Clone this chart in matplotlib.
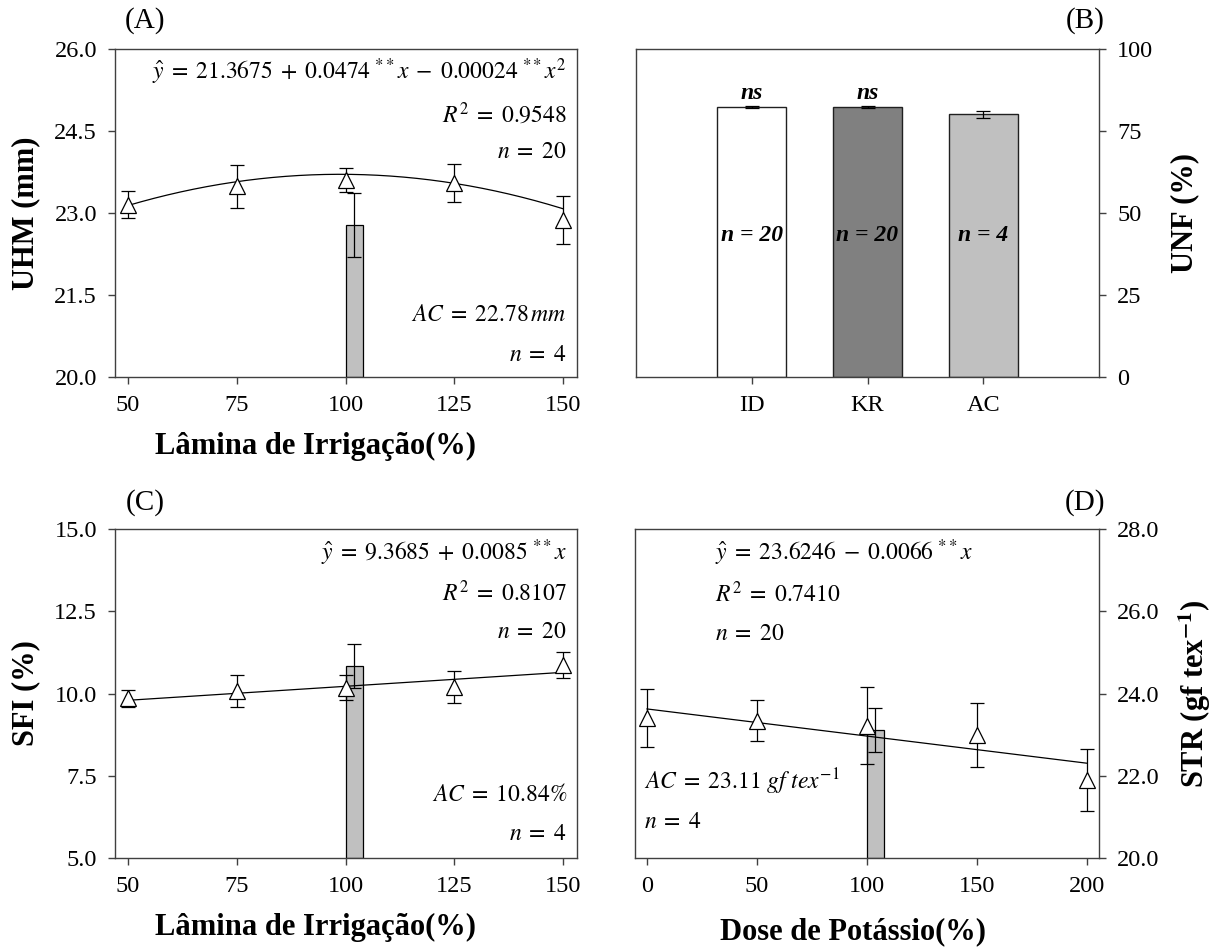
import numpy as np
import matplotlib
matplotlib.use("Agg")
import matplotlib.pyplot as plt
from matplotlib.ticker import FormatStrFormatter

plt.rcParams['font.family'] = ['Liberation Serif', 'DejaVu Serif']
plt.rcParams['mathtext.fontset'] = 'stix'

# ---- data ----
# (A) UHM vs irrigation
lam_x = [50, 75, 100, 125, 150]
uhm_y = [23.15, 23.49, 23.61, 23.55, 22.88]
uhm_err = [0.25, 0.39, 0.22, 0.35, 0.44]
uhm_coef = [-0.00024, 0.0474, 21.3675]
uhm_ac = 22.78
uhm_ac_err = 0.59

# (B) UNF bars
unf_cat = ['ID', 'KR', 'AC']
unf_val = [82.4, 82.4, 80.1]
unf_err = [0.3, 0.3, 1.0]
unf_n = ['n = 20', 'n = 20', 'n = 4']
unf_sig = ['ns', 'ns', '']
unf_col = ['#ffffff', '#808080', '#c0c0c0']

# (C) SFI vs irrigation
sfi_y = [9.85, 10.08, 10.18, 10.20, 10.86]
sfi_err = [0.25, 0.49, 0.37, 0.49, 0.39]
sfi_coef = [0.0085, 9.3685]
sfi_ac = 10.84
sfi_ac_err = 0.66

# (D) STR vs potassium
dose_x = [0, 50, 100, 150, 200]
str_y = [23.40, 23.34, 23.22, 22.99, 21.90]
str_err = [0.70, 0.49, 0.94, 0.78, 0.75]
str_coef = [-0.0066, 23.6246]
str_ac = 23.11
str_ac_err = 0.53

W, H = 1214, 949
fig = plt.figure(figsize=(W / 100, H / 100), dpi=100)

def box(l, r, t, b):
    return [l / W, 1 - b / H, (r - l) / W, (b - t) / H]

axA = fig.add_axes(box(115, 577, 49, 377))
axB = fig.add_axes(box(636, 1099, 49, 377))
axC = fig.add_axes(box(115, 577, 529, 858))
axD = fig.add_axes(box(635, 1099, 529, 858))

spc = '#404040'
tick_fs = 17.5
lab_fs = 22
eq_fs = 17
let_fs = 21

for ax in [axA, axB, axC, axD]:
    for s in ax.spines.values():
        s.set_color(spc)
        s.set_linewidth(1.0)
    ax.tick_params(direction='out', length=5, width=1, color=spc,
                   labelsize=tick_fs, pad=8)

tri = dict(fmt='^', ms=12, mfc='white', mec='black', mew=0.9,
           ecolor='black', elinewidth=0.9, capsize=5, capthick=0.9, zorder=5)

def eq(ax, x, y, s, ha='right'):
    ax.text(x, y, s, transform=ax.transAxes, ha=ha, va='center', fontsize=eq_fs)

def xlab(ax, s, xf, yf):
    ax.set_xlabel(s, fontsize=lab_fs, fontweight='bold', va='center')
    ax.xaxis.set_label_coords(xf, yf)

# ---- A ----
xx = np.linspace(50, 150, 200)
axA.plot(xx, np.polyval(uhm_coef, xx), color='black', lw=0.9, zorder=3)
axA.bar(100, uhm_ac - 20, bottom=20, width=3.9, align='edge', color='#c0c0c0',
        edgecolor='black', lw=0.9, zorder=2)
axA.errorbar(101.95, uhm_ac, yerr=uhm_ac_err, fmt='none', ecolor='black',
             elinewidth=0.9, capsize=5, capthick=0.9, zorder=4)
axA.errorbar(lam_x, uhm_y, yerr=uhm_err, **tri)
axA.set_xlim(47, 153.2)
axA.set_ylim(20, 26)
axA.set_xticks(lam_x)
axA.set_yticks([20, 21.5, 23, 24.5, 26])
axA.yaxis.set_major_formatter(FormatStrFormatter('%.1f'))
xlab(axA, 'Lâmina de Irrigação(%)', 0.433, -0.213)
axA.set_ylabel('UHM (mm)', fontsize=lab_fs, fontweight='bold', labelpad=10)
eq(axA, 0.978, 0.93, r'$\hat{y}\;=\;21.3675\;+\;0.0474\;{}^{**}x\;-\;0.00024\;{}^{**}x^2$')
eq(axA, 0.978, 0.80, r'$R^2\;=\;0.9548$')
eq(axA, 0.978, 0.683, r'$n\;=\;20$')
eq(axA, 0.978, 0.189, r'$AC\;=\;22.78\,mm$')
eq(axA, 0.978, 0.067, r'$n\;=\;4$')
fig.text(145 / W, 1 - 21 / H, '(A)', ha='center', va='center', fontsize=let_fs)

# ---- B ----
pos = np.arange(len(unf_cat))
axB.bar(pos, unf_val, width=0.6, color=unf_col, edgecolor='#202020', lw=1.0, zorder=2)
axB.errorbar(pos, unf_val, yerr=unf_err, fmt='none', ecolor='black',
             elinewidth=0.9, capsize=5, capthick=0.9, zorder=3)
for i in range(len(unf_cat)):
    axB.text(pos[i], 43.2, unf_n[i], ha='center', va='center', fontsize=17,
             fontweight='bold', fontstyle='italic')
    if unf_sig[i]:
        axB.text(pos[i], 86.5, unf_sig[i], ha='center', va='center', fontsize=17,
                 fontweight='bold', fontstyle='italic')
axB.set_xlim(-1, 3)
axB.set_ylim(0, 100)
axB.set_xticks(pos)
axB.set_xticklabels(unf_cat)
axB.set_yticks([0, 25, 50, 75, 100])
axB.yaxis.tick_right()
axB.yaxis.set_label_position('right')
axB.set_ylabel('UNF (%)', fontsize=lab_fs, fontweight='bold', labelpad=12)
fig.text(1085 / W, 1 - 21 / H, '(B)', ha='center', va='center', fontsize=let_fs)

# ---- C ----
axC.plot(xx, np.polyval(sfi_coef, xx), color='black', lw=0.9, zorder=3)
axC.bar(100, sfi_ac - 5, bottom=5, width=3.9, align='edge', color='#c0c0c0',
        edgecolor='black', lw=0.9, zorder=2)
axC.errorbar(101.95, sfi_ac, yerr=sfi_ac_err, fmt='none', ecolor='black',
             elinewidth=0.9, capsize=5, capthick=0.9, zorder=4)
axC.errorbar(lam_x, sfi_y, yerr=sfi_err, **tri)
axC.set_xlim(47, 153.2)
axC.set_ylim(5, 15)
axC.set_xticks(lam_x)
axC.set_yticks([5, 7.5, 10, 12.5, 15])
axC.yaxis.set_major_formatter(FormatStrFormatter('%.1f'))
xlab(axC, 'Lâmina de Irrigação(%)', 0.433, -0.21)
axC.set_ylabel('SFI (%)', fontsize=lab_fs, fontweight='bold', labelpad=10)
eq(axC, 0.978, 0.927, r'$\hat{y}\;=\;9.3685\;+\;0.0085\;{}^{**}x$')
eq(axC, 0.978, 0.805, r'$R^2\;=\;0.8107$')
eq(axC, 0.978, 0.684, r'$n\;=\;20$')
eq(axC, 0.978, 0.191, r'$AC\;=\;10.84\%$')
eq(axC, 0.978, 0.070, r'$n\;=\;4$')
fig.text(145 / W, 1 - 503 / H, '(C)', ha='center', va='center', fontsize=let_fs)

# ---- D ----
xd = np.linspace(0, 200, 200)
axD.plot(xd, np.polyval(str_coef, xd), color='black', lw=0.9, zorder=3)
axD.bar(100, str_ac - 20, bottom=20, width=7.5, align='edge', color='#c0c0c0',
        edgecolor='black', lw=0.9, zorder=2)
axD.errorbar(103.75, str_ac, yerr=str_ac_err, fmt='none', ecolor='black',
             elinewidth=0.9, capsize=5, capthick=0.9, zorder=4)
axD.errorbar(dose_x, str_y, yerr=str_err, **tri)
axD.set_xlim(-5.45, 205.45)
axD.set_ylim(20, 28)
axD.set_xticks(dose_x)
axD.set_yticks([20, 22, 24, 26, 28])
axD.yaxis.set_major_formatter(FormatStrFormatter('%.1f'))
axD.yaxis.tick_right()
axD.yaxis.set_label_position('right')
xlab(axD, 'Dose de Potássio(%)', 0.47, -0.225)
axD.set_ylabel(r'STR (gf tex$^{\mathbf{-1}}$)', fontsize=lab_fs, fontweight='bold', labelpad=12)
eq(axD, 0.172, 0.927, r'$\hat{y}\;=\;23.6246\;-\;0.0066\;{}^{**}x$', ha='left')
eq(axD, 0.172, 0.802, r'$R^2\;=\;0.7410$', ha='left')
eq(axD, 0.172, 0.678, r'$n\;=\;20$', ha='left')
eq(axD, 0.02, 0.231, r'$AC\;=\;23.11\ gf\ tex^{-1}$', ha='left')
eq(axD, 0.02, 0.109, r'$n\;=\;4$', ha='left')
fig.text(1085 / W, 1 - 503 / H, '(D)', ha='center', va='center', fontsize=let_fs)

fig.savefig('out.png', dpi=100)
